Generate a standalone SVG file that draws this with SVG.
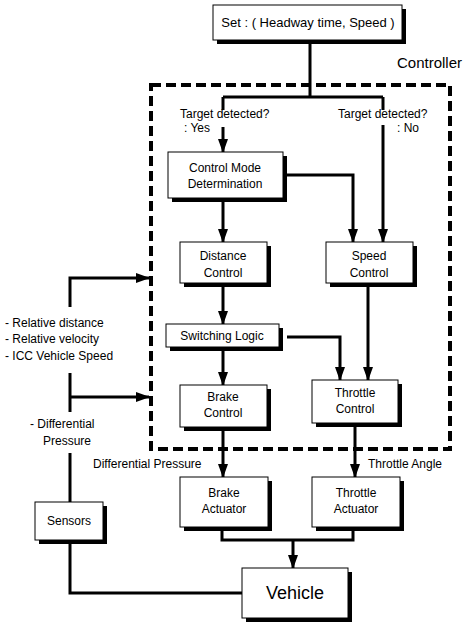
<svg xmlns="http://www.w3.org/2000/svg" width="465" height="625" viewBox="0 0 465 625">
<style>
text{font-family:"Liberation Sans",Arial,sans-serif;font-size:12px;fill:#000}
.c{text-anchor:middle}
.sh{fill:#000}
.bx{fill:#fff;stroke:#000;stroke-width:1}
.ln{fill:none;stroke:#000;stroke-width:3}
.ar{fill:none;stroke:#000;stroke-width:3;marker-end:url(#ah)}
.dash{fill:none;stroke:#000;stroke-width:4;stroke-dasharray:10 5}
</style>
<defs>
<marker id="ah" viewBox="0 0 14 10" refX="13" refY="5" markerWidth="14" markerHeight="10" markerUnits="userSpaceOnUse" orient="auto">
<path d="M0,0 L14,5 L0,10 z" fill="#000"/>
</marker>
</defs>
<rect width="465" height="625" fill="#fff"/>

<g id="controller">
<rect class="dash" x="151" y="85" width="299" height="364"/>
<text x="397" y="68" style="font-size:15px">Controller</text>
</g>

<g id="connectors">
<path class="ln" d="M310,44 V97 M223,97 H383 M223,97 V110 M383,97 V110"/>
<path class="ar" d="M223,127 V152"/>
<path class="ar" d="M383,125 V242"/>
<path class="ar" d="M287,175 H353 V242"/>
<path class="ar" d="M223,202 V242"/>
<path class="ar" d="M223,287 V324"/>
<path class="ar" d="M368,287 V380"/>
<path class="ar" d="M287,337 H340 V380"/>
<path class="ar" d="M223,351 V385"/>
<path class="ar" d="M223,431 V477"/>
<path class="ar" d="M355,427 V477"/>
<path class="ln" d="M222,531 V540 H353 V531"/>
<path class="ar" d="M293,540 V568"/>
<path class="ln" d="M70,544 V593 H242"/>
<path class="ln" d="M70,502 V453 M70,412 V373"/>
<path class="ar" d="M70,397 H149"/>
<path class="ar" d="M70,307 V278 H149"/>
</g>

<g id="labels">
<text x="180" y="118">Target detected?</text>
<text x="184" y="132">: Yes</text>
<text x="338" y="118">Target detected?</text>
<text x="397" y="132">: No</text>
<text x="5" y="327">- Relative distance</text>
<text x="5" y="343">- Relative velocity</text>
<text x="5" y="360">- ICC Vehicle Speed</text>
<text x="30" y="428">- Differential</text>
<text x="43" y="445">Pressure</text>
<text x="93" y="468">Differential Pressure</text>
<text x="368" y="468">Throttle Angle</text>
</g>

<g id="set">
<rect class="sh" x="217" y="9" width="189" height="35"/>
<rect class="bx" x="213" y="5" width="189" height="35"/>
<text class="c" x="308" y="27" style="font-size:13px">Set : ( Headway time, Speed )</text>
</g>

<g id="cmd">
<rect class="sh" x="172" y="156" width="115" height="46"/>
<rect class="bx" x="168" y="152" width="115" height="46"/>
<text class="c" x="225" y="172">Control Mode</text>
<text class="c" x="225" y="188">Determination</text>
</g>

<g id="distance">
<rect class="sh" x="184" y="246" width="87" height="41"/>
<rect class="bx" x="180" y="242" width="87" height="41"/>
<text class="c" x="223" y="260">Distance</text>
<text class="c" x="223" y="277">Control</text>
</g>

<g id="speed">
<rect class="sh" x="330" y="246" width="87" height="41"/>
<rect class="bx" x="326" y="242" width="87" height="41"/>
<text class="c" x="369" y="260">Speed</text>
<text class="c" x="369" y="277">Control</text>
</g>

<g id="switching">
<rect class="sh" x="170" y="328" width="113" height="23"/>
<rect class="bx" x="166" y="324" width="113" height="23"/>
<text class="c" x="222" y="340">Switching Logic</text>
</g>

<g id="brakectrl">
<rect class="sh" x="184" y="389" width="87" height="42"/>
<rect class="bx" x="180" y="385" width="87" height="42"/>
<text class="c" x="223" y="401">Brake</text>
<text class="c" x="223" y="417">Control</text>
</g>

<g id="throttlectrl">
<rect class="sh" x="316" y="384" width="86" height="43"/>
<rect class="bx" x="312" y="380" width="86" height="43"/>
<text class="c" x="355" y="397">Throttle</text>
<text class="c" x="355" y="413">Control</text>
</g>

<g id="brakeact">
<rect class="sh" x="184" y="481" width="88" height="50"/>
<rect class="bx" x="180" y="477" width="88" height="50"/>
<text class="c" x="224" y="497">Brake</text>
<text class="c" x="224" y="513">Actuator</text>
</g>

<g id="throttleact">
<rect class="sh" x="316" y="481" width="88" height="50"/>
<rect class="bx" x="312" y="477" width="88" height="50"/>
<text class="c" x="356" y="497">Throttle</text>
<text class="c" x="356" y="513">Actuator</text>
</g>

<g id="sensors">
<rect class="sh" x="39" y="506" width="68" height="38"/>
<rect class="bx" x="35" y="502" width="68" height="38"/>
<text class="c" x="69" y="525">Sensors</text>
</g>

<g id="vehicle">
<rect class="sh" x="246" y="572" width="106" height="50"/>
<rect class="bx" x="242" y="568" width="106" height="50"/>
<text class="c" x="295" y="599" style="font-size:18px">Vehicle</text>
</g>
</svg>
